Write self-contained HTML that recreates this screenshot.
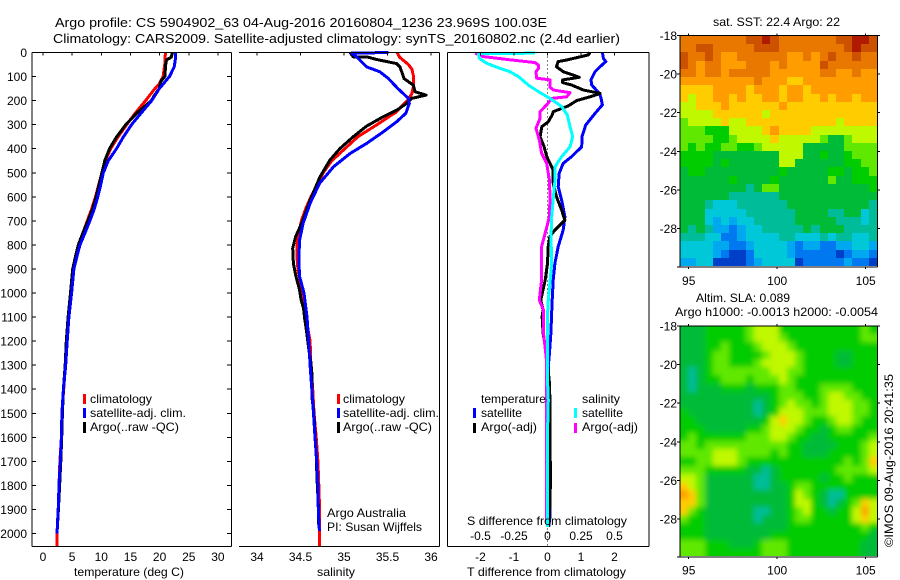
<!DOCTYPE html>
<html lang="en">
<head>
<meta charset="utf-8">
<title>Argo profile</title>
<style>
html,body{margin:0;padding:0;background:#fff;}
svg{display:block;}
text{font-family:"Liberation Sans",sans-serif;font-size:12px;fill:#000;}
.t13{font-size:13px;}
</style>
</head>
<body>
<svg id="chart" xmlns="http://www.w3.org/2000/svg" width="900" height="580" viewBox="0 0 900 580">
  <defs>
    <clipPath id="sla-clip"><rect x="680" y="326" width="197" height="230"/></clipPath>
    <filter id="sla-blur" filterUnits="userSpaceOnUse" x="650" y="296" width="250" height="284"><feGaussianBlur stdDeviation="2.6"/></filter>
  </defs>
  <rect x="0" y="0" width="900" height="580" fill="#fff"/>
  <text class="t13" x="55" y="27" textLength="492" lengthAdjust="spacingAndGlyphs">Argo profile: CS 5904902_63 04-Aug-2016 20160804_1236 23.969S 100.03E</text>
  <text class="t13" x="53" y="43" textLength="567" lengthAdjust="spacingAndGlyphs">Climatology: CARS2009. Satellite-adjusted climatology: synTS_20160802.nc (2.4d earlier)</text>

  <g id="heat1"></g>
  <g clip-path="url(#sla-clip)">
    <g id="heat2" filter="url(#sla-blur)"></g>
  </g>
  <g id="lines"></g>
  <g id="axes"></g>

  <g>
    <rect x="83" y="394" width="3" height="10" fill="#f00"/>
    <text x="90" y="403" textLength="62" lengthAdjust="spacingAndGlyphs">climatology</text>
    <rect x="83" y="408" width="3" height="10" fill="#00f"/>
    <text x="90" y="417" textLength="96" lengthAdjust="spacingAndGlyphs">satellite-adj. clim.</text>
    <rect x="83" y="422" width="3" height="11" fill="#000"/>
    <text x="90" y="431" textLength="89" lengthAdjust="spacingAndGlyphs">Argo(..raw -QC)</text>
  </g>
  <g>
    <rect x="337" y="394" width="3" height="10" fill="#f00"/>
    <text x="343" y="403" textLength="62" lengthAdjust="spacingAndGlyphs">climatology</text>
    <rect x="337" y="408" width="3" height="10" fill="#00f"/>
    <text x="343" y="417" textLength="96" lengthAdjust="spacingAndGlyphs">satellite-adj. clim.</text>
    <rect x="337" y="422" width="3" height="11" fill="#000"/>
    <text x="343" y="431" textLength="89" lengthAdjust="spacingAndGlyphs">Argo(..raw -QC)</text>
  </g>
  <g>
    <text x="481" y="403" textLength="65" lengthAdjust="spacingAndGlyphs">temperature</text>
    <rect x="473" y="408" width="3" height="10" fill="#00f"/>
    <text x="481" y="417" textLength="41" lengthAdjust="spacingAndGlyphs">satellite</text>
    <rect x="473" y="423" width="3" height="10" fill="#000"/>
    <text x="481" y="431" textLength="56" lengthAdjust="spacingAndGlyphs">Argo(-adj)</text>
    <text x="582" y="403" textLength="38" lengthAdjust="spacingAndGlyphs">salinity</text>
    <rect x="574" y="408" width="3" height="10" fill="#0ff"/>
    <text x="582" y="417" textLength="41" lengthAdjust="spacingAndGlyphs">satellite</text>
    <rect x="574" y="423" width="3" height="10" fill="#f0f"/>
    <text x="582" y="431" textLength="56" lengthAdjust="spacingAndGlyphs">Argo(-adj)</text>
  </g>

  <text x="327" y="517" textLength="79" lengthAdjust="spacingAndGlyphs">Argo Australia</text>
  <text x="327" y="531" textLength="95" lengthAdjust="spacingAndGlyphs">PI: Susan Wijffels</text>

  <text x="74" y="576" textLength="110" lengthAdjust="spacingAndGlyphs">temperature (deg C)</text>
  <text x="317" y="576" textLength="38" lengthAdjust="spacingAndGlyphs">salinity</text>
  <text x="467" y="525" textLength="160" lengthAdjust="spacingAndGlyphs">S difference from climatology</text>
  <text x="467" y="576" textLength="159" lengthAdjust="spacingAndGlyphs">T difference from climatology</text>

  <text x="713" y="26" textLength="127" lengthAdjust="spacingAndGlyphs">sat. SST: 22.4 Argo: 22</text>
  <text x="696" y="302" textLength="94" lengthAdjust="spacingAndGlyphs">Altim. SLA: 0.089</text>
  <text x="675" y="316" textLength="203" lengthAdjust="spacingAndGlyphs">Argo h1000: -0.0013 h2000: -0.0054</text>
  <text transform="translate(893,547) rotate(-90)" x="0" y="0" textLength="173" lengthAdjust="spacingAndGlyphs">©IMOS 09-Aug-2016 20:41:35</text>
</svg>
<script>
// ---------- profile data: depth (m) and value for each series ----------
const tempClimDepth = [0,50,100,130,150,200,250,300,350,400,450,500,550,600,650,700,750,800,850,900,1000,1100,1200,1300,1400,1500,1600,1700,1800,1900,2000,2052];
const tempClimValues = [21.0,20.9,20.6,19.95,19.2,17.6,15.9,14.35,12.9,11.6,10.7,10.1,9.55,9.0,8.35,7.6,6.85,6.1,5.55,5.15,4.75,4.35,4.1,3.85,3.55,3.25,3.15,2.9,2.75,2.6,2.4,2.4];
const tempSatDepth = [0,30,60,100,130,150,200,250,300,350,400,450,500,550,600,650,700,750,800,850,900,1000,1100,1200,1300,1400,1500,1600,1700,1800,1900,2000];
const tempSatValues = [22.75,22.7,22.5,21.7,20.65,19.95,18.65,16.9,15.2,13.8,12.6,11.2,10.35,9.9,9.4,8.8,8.05,7.2,6.35,5.8,5.3,4.9,4.45,4.15,3.9,3.5,3.25,3.15,2.97,2.75,2.6,2.4];
const tempArgoDepth = [0,20,30,50,100,120,150,180,200,250,300,350,400,450,500,550,600,650,700,750,800,850,900,1000,1100,1200,1300,1400,1500,1600,1700,1800,1900,1980];
const tempArgoValues = [22.2,22.0,21.2,21.05,20.9,20.2,19.95,19.05,18.6,16.2,14.2,12.65,11.4,10.6,10.1,9.6,9.1,8.5,7.7,6.85,6.05,5.55,5.1,4.72,4.3,4.0,3.8,3.5,3.32,3.2,3.05,2.85,2.65,2.45];

const salClimDepth = [0,20,50,70,100,140,170,190,210,250,300,350,400,450,500,550,600,650,700,750,800,850,900,1000,1100,1200,1300,1400,1500,1600,1700,1800,1900,2000,2052];
const salClimValues = [35.61,35.64,35.74,35.78,35.80,35.80,35.78,35.75,35.70,35.59,35.38,35.16,35.01,34.86,34.76,34.69,34.62,34.56,34.51,34.48,34.46,34.46,34.47,34.52,34.56,34.61,34.62,34.64,34.655,34.68,34.70,34.71,34.72,34.72,34.72];
const salSatDepth = [0,3,18,60,80,108,150,191,212,253,288,330,378,420,475,544,627,710,780,863,932,1000,1100,1200,1300,1400,1500,1600,1700,1800,1900,1990];
const salSatValues = [35.51,35.088,35.146,35.26,35.41,35.51,35.62,35.74,35.75,35.71,35.605,35.45,35.26,35.07,34.88,34.72,34.61,34.53,34.49,34.48,34.49,34.54,34.575,34.594,34.61,34.63,34.65,34.667,34.686,34.70,34.705,34.717];
const salArgoDepth = [0,18,18,29,46,60,108,136,163,177,191,212,240,267,306,350,399,447,517,614,711,766,814,877,932,988,1025,1064,1110,1160,1235,1290,1330,1430,1500,1585,1670,1770,1880,1970];
const salArgoValues = [35.069,35.107,35.26,35.376,35.605,35.644,35.69,35.797,35.816,35.942,35.778,35.72,35.605,35.452,35.26,35.107,34.954,34.839,34.724,34.61,34.513,34.444,34.41,34.418,34.448,34.49,34.505,34.535,34.55,34.57,34.595,34.62,34.63,34.63,34.655,34.665,34.68,34.69,34.705,34.71];

const diffTSatDepth = [0,24,38,59,80,114,135,170,191,218,253,302,350,392,433,461,502,558,613,683,738,807,877,946,1029,1098,1167,1237,1306,1445,1722,1930,1972];
const diffTSatValues = [1.64,1.67,1.74,1.57,1.42,1.30,1.32,1.55,1.60,1.64,1.42,1.14,1.03,1.02,0.72,0.47,0.35,0.32,0.42,0.52,0.47,0.32,0.22,0.17,0.14,0.12,0.10,0.065,0.025,0.035,0.065,0.075,0.035];
const diffTArgoDepth = [0,10,31,38,59,80,94,103,114,125,135,156,170,184,200,222,246,260,288,308,350,392,433,489,544,600,655,697,738,766,807,877,946,1029,1071,1098,1167,1237,1292,1361,1472,1583,1680,1778,1930,1972];
const diffTArgoValues = [1.27,1.22,0.57,0.32,0.27,0.47,0.77,0.95,0.45,0.45,0.72,1.07,1.57,1.27,0.87,0.62,0.17,0.14,0.02,-0.17,-0.22,-0.10,-0.02,0.17,0.17,0.27,0.42,0.52,0.22,0.07,0.02,0,-0.07,-0.2,-0.13,-0.16,-0.13,-0.05,-0.01,0.05,0.08,0.07,0.08,0.09,0.06,0.03];
const diffSSatDepth = [3,4,24,45,66,80,100,135,163,191,225,260,308,350,392,433,475,530,600,683,766,877,1029,1098,1167,1361,1445,1583,1972];
const diffSSatValues = [-0.093,-0.516,-0.509,-0.454,-0.354,-0.28,-0.218,-0.143,-0.068,0.019,0.106,0.148,0.168,0.188,0.168,0.106,0.056,0.056,0.044,0.031,0.026,0.031,0.006,-0.001,0,0,0.006,0,0];
const diffSArgoDepth = [3,17,31,42,52,66,80,107,114,145,156,167,184,191,218,246,274,315,364,419,461,530,600,683,738,807,877,946,1029,1071,1167,1237,1292,1389,1456,1950];
const diffSArgoValues = [-0.541,-0.479,-0.267,-0.093,-0.068,-0.068,-0.086,-0.081,0.019,0.019,0.044,0.168,0.143,0.031,-0.006,-0.056,-0.056,-0.086,-0.061,-0.044,-0.006,0.014,0.019,0.014,-0.011,-0.044,-0.044,-0.044,-0.061,-0.03,-0.03,-0.016,-0.006,-0.006,-0.006,-0.006];

// ---------- tick labels ----------
const depthTicks = [0,100,200,300,400,500,600,700,800,900,1000,1100,1200,1300,1400,1500,1600,1700,1800,1900,2000];
const tempTicks = [0,5,10,15,20,25,30];
const salTicks = [34,34.5,35,35.5,36];
const diffTTicks = [-2,-1,0,1,2];
const diffSTicks = [-0.5,-0.25,0,0.25,0.5];
const latTicks = [-18,-20,-22,-24,-26,-28];
const lonTicks = [95,100,105];

// ---------- map data (colour level per cell, north to south, west to east) ----------
const sstLevels = [
[11,11,11,11,11,11,11,11,12,12,13,12,11,11,11,11,11,11,11,12,12,13,13,12],
[11,11,12,12,11,11,11,11,11,12,12,12,11,11,11,11,11,11,11,11,12,13,12,12],
[12,11,11,12,11,10,10,11,11,11,11,11,11,10,10,11,10,11,12,11,11,12,11,11],
[12,11,10,11,11,10,10,10,11,11,11,10,11,10,10,10,10,12,11,11,11,11,11,11],
[11,11,10,11,11,10,11,11,11,11,11,10,10,10,10,10,10,11,11,10,10,11,10,10],
[10,10,10,10,10,10,10,10,10,11,10,10,10,9,9,10,10,10,10,10,10,10,10,10],
[9,9,9,9,10,10,10,10,9,10,10,10,9,10,10,9,10,10,10,10,10,10,10,10],
[9,8,9,9,10,10,9,10,9,9,10,10,9,10,10,9,9,10,9,10,10,9,10,10],
[8,8,9,9,9,10,9,9,9,9,9,9,10,9,9,9,9,9,9,9,9,9,9,9],
[8,8,8,8,9,9,9,9,9,9,8,9,9,9,9,9,9,9,9,9,9,9,9,9],
[7,8,8,8,8,9,8,8,9,9,9,9,9,9,9,9,9,9,9,8,9,9,9,9],
[7,7,7,6,6,6,8,8,8,8,9,10,9,9,9,9,8,8,8,8,8,8,8,8],
[7,7,7,7,6,6,7,8,8,8,8,9,8,8,8,8,8,7,5,5,7,8,8,8],
[7,6,7,6,6,7,7,6,6,7,8,8,8,8,8,5,5,5,5,5,7,7,7,7],
[6,6,6,6,5,5,5,5,5,5,5,5,8,8,8,5,5,6,5,5,6,7,7,7],
[6,6,6,6,5,6,5,5,5,5,5,5,8,8,5,5,5,5,5,5,6,6,7,7],
[5,6,6,5,5,5,5,5,5,5,5,5,6,5,5,5,5,5,6,6,5,6,6,7],
[5,5,5,5,5,5,6,5,5,5,5,6,5,5,5,5,5,5,7,5,5,6,6,6],
[5,5,5,5,5,5,5,5,4,5,7,7,5,5,5,5,5,5,5,5,5,5,5,6],
[5,5,5,5,5,5,4,4,4,4,4,4,5,5,5,5,5,5,5,5,5,5,5,5],
[5,5,5,4,3,3,3,4,4,4,4,4,4,5,5,5,5,5,5,5,5,5,5,4],
[5,5,5,3,3,3,3,3,4,4,4,4,4,4,5,5,5,5,4,4,5,5,3,4],
[5,5,5,3,2,3,2,3,3,4,4,4,4,4,5,5,5,5,5,4,4,4,3,4],
[5,4,5,4,2,2,1,2,3,3,4,4,4,4,4,5,4,5,5,5,4,4,4,4],
[4,4,4,3,3,1,1,2,3,3,3,3,4,4,3,3,3,4,3,4,4,3,3,4],
[3,3,3,3,2,2,1,1,2,3,3,3,3,2,1,2,2,1,1,2,2,3,3,2],
[3,3,3,3,2,1,0,0,1,3,3,3,3,2,1,1,1,1,1,0,1,2,2,1],
[2,2,3,3,0,0,0,0,1,2,3,3,3,3,0,1,1,1,1,1,2,1,1,0]
];
const slaLevels = [
[5,5,5,6,6,6,6,6,7,8,8,8,6,6,6,6,6,6,6,6,6,6,7,6],
[5,5,5,6,6,6,6,6,7,8,8,8,7,6,6,6,6,6,6,6,6,6,7,7],
[5,5,5,6,6,7,6,6,6,7,8,8,8,7,6,6,6,6,6,6,6,6,6,6],
[5,5,5,6,7,7,6,6,6,6,7,8,8,8,7,6,6,6,6,5,5,6,6,6],
[5,5,5,6,7,7,6,6,6,7,8,8,8,8,7,6,6,6,6,5,5,6,6,6],
[5,4,5,6,7,7,7,7,7,7,7,8,8,7,7,6,6,6,6,6,6,6,6,6],
[5,4,5,6,6,7,7,7,6,7,7,7,8,7,6,6,6,6,6,6,6,6,6,6],
[5,4,5,5,5,6,6,6,5,6,6,6,7,7,6,6,6,7,7,7,7,6,6,6],
[5,5,5,5,5,5,5,5,5,5,5,6,7,7,7,6,6,7,8,8,7,7,6,6],
[5,5,5,5,5,5,5,5,5,4,5,6,7,8,7,7,6,7,8,8,8,7,7,6],
[6,5,5,5,5,5,5,5,5,4,5,6,8,8,8,7,7,7,8,8,8,7,7,6],
[6,6,5,5,5,5,5,5,5,5,6,8,9,8,8,7,6,6,7,8,8,7,6,6],
[6,6,6,5,5,5,5,5,6,6,7,8,8,8,7,6,6,5,6,7,7,6,6,6],
[6,7,6,6,6,6,6,6,7,7,7,8,8,7,6,6,5,5,6,6,6,6,6,7],
[7,7,6,7,7,7,7,7,7,7,7,7,7,6,6,5,5,5,5,6,6,6,7,8],
[7,7,7,7,8,8,8,7,7,7,7,6,7,6,6,5,5,5,6,6,6,6,7,8],
[6,6,7,7,8,8,8,7,6,6,6,6,6,6,6,6,6,6,6,6,7,6,7,9],
[7,7,7,6,6,6,6,6,5,5,4,5,6,6,6,6,6,6,6,7,7,7,7,8],
[8,8,7,5,5,5,5,5,5,4,4,5,6,6,6,6,6,5,6,6,7,6,6,6],
[9,8,7,5,5,5,5,5,5,4,4,5,5,6,7,7,6,6,6,6,6,6,6,6],
[10,9,7,5,5,5,5,5,5,5,5,5,5,6,8,7,6,5,4,4,6,6,6,6],
[9,9,7,5,5,5,5,5,5,5,5,5,5,6,8,8,6,5,4,5,6,7,9,8],
[9,7,6,5,5,5,5,5,5,4,4,5,5,6,7,8,6,6,5,6,6,8,10,8],
[7,6,6,5,5,5,5,5,5,4,5,5,5,6,7,7,6,6,6,6,6,8,9,8],
[6,6,6,5,5,5,5,5,5,5,5,5,5,6,6,6,6,6,6,6,6,6,7,6],
[6,6,6,5,5,5,5,5,5,5,5,6,6,6,6,6,6,6,6,6,6,6,6,5],
[7,7,7,6,6,6,5,5,5,6,7,7,7,6,6,6,6,6,6,6,6,6,5,5],
[7,7,7,6,6,6,6,6,6,6,7,7,7,6,6,6,6,6,6,6,6,6,5,5]
];
const levelColours = ['#0040c8','#0078f0','#00a8f0','#00c8d8','#00bc98','#00bb38','#00cc00','#60e800','#c0f800','#ffcc00','#ff9c00','#e87800','#cc5200','#b01a00'];

// ---------- axis functions ----------
const NS = 'http://www.w3.org/2000/svg';
function depthY(d){ return 52.5 + 0.2405 * d; }
function tempX(t){ return 43 + 5.83 * t; }
function salX(s){ return 257 + 87 * (s - 34); }
function diffTX(t){ return 547.5 + 33.5 * t; }
function diffSX(s){ return 547.5 + 134 * s; }
function lonX(lon){ return 688.7 + 17.7 * (lon - 95); }
function lat1Y(lat){ return 35.5 + 19.3 * (-18 - lat); }
function lat2Y(lat){ return 326 + 19.3 * (-18 - lat); }

function make(tag, attrs, parent){
  const el = document.createElementNS(NS, tag);
  for (const k in attrs) el.setAttribute(k, attrs[k]);
  parent.appendChild(el);
  return el;
}
const linesG = document.getElementById('lines');
const axesG = document.getElementById('axes');

function drawProfile(name, depths, values, xFn, colour, width){
  const pts = depths.map(function(d, i){ return xFn(values[i]).toFixed(1) + ',' + depthY(d).toFixed(1); }).join(' ');
  const el = make('polyline', {points: pts, fill: 'none', stroke: colour, 'stroke-width': width, 'shape-rendering': 'crispEdges', 'stroke-linejoin': 'round'}, linesG);
  
  
}
function drawLine(name, x1, y1, x2, y2, parent){
  const el = make('line', {x1: x1, y1: y1, x2: x2, y2: y2, stroke: '#000', 'stroke-width': 1, 'shape-rendering': 'crispEdges'}, parent || axesG);
  
  
  return el;
}
function drawLabel(name, txt, x, y, anchor){
  const el = make('text', {x: x, y: y, 'text-anchor': anchor || 'middle'}, axesG);
  el.textContent = txt;
  
  
}
function drawHeat(groupId, levels, yTop, yBottom, bleed){
  const g = document.getElementById(groupId);
  const x0 = 680, x1 = 877;
  const cols = levels[0].length, rows = levels.length;
  levels.forEach(function(row, r){
    row.forEach(function(v, c){
      let xa = Math.round(x0 + (x1 - x0) * c / cols), xb = Math.round(x0 + (x1 - x0) * (c + 1) / cols);
      let ya = Math.round(yTop + (yBottom - yTop) * r / rows), yb = Math.round(yTop + (yBottom - yTop) * (r + 1) / rows);
      if (c === 0) xa -= bleed;
      if (c === cols - 1) xb += bleed;
      if (r === 0) ya -= bleed;
      if (r === rows - 1) yb += bleed;
      const el = make('rect', {x: xa, y: ya, width: xb - xa, height: yb - ya, fill: levelColours[v], 'shape-rendering': 'crispEdges'}, g);
      
      
    });
  });
}

// ---------- maps ----------
drawHeat('heat1', sstLevels, 36, 266, 0);
drawHeat('heat2', slaLevels, 326, 556, 14);

// ---------- dotted zero line (panel 3) ----------
const zeroLine = make('line', {x1: diffTX(0), y1: 52.5, x2: diffTX(0), y2: 546, stroke: '#000', 'stroke-width': 1, 'stroke-dasharray': '1 3', 'shape-rendering': 'crispEdges'}, linesG);



// ---------- profile lines ----------
drawProfile('temperature-climatology-line', tempClimDepth, tempClimValues, tempX, '#f00', 3);
drawProfile('temperature-argo-line', tempArgoDepth, tempArgoValues, tempX, '#000', 3);
drawProfile('temperature-satellite-line', tempSatDepth, tempSatValues, tempX, '#00f', 3);
drawProfile('salinity-climatology-line', salClimDepth, salClimValues, salX, '#f00', 3);
drawProfile('salinity-argo-line', salArgoDepth, salArgoValues, salX, '#000', 3);
drawProfile('salinity-satellite-line', salSatDepth, salSatValues, salX, '#00f', 3);
drawProfile('t-difference-satellite-line', diffTSatDepth, diffTSatValues, diffTX, '#00f', 3);
drawProfile('t-difference-argo-line', diffTArgoDepth, diffTArgoValues, diffTX, '#000', 3);
drawProfile('s-difference-argo-line', diffSArgoDepth, diffSArgoValues, diffSX, '#f0f', 3);
drawProfile('s-difference-satellite-line', diffSSatDepth, diffSSatValues, diffSX, '#0ff', 3);

// ---------- panel frames ----------
const T = 52.5, B = 546.5;
drawLine('panel1-top', 32, T, 231.5, T);
drawLine('panel1-bottom', 32, B, 231.5, B);
drawLine('panel1-left', 32, T, 32, B);
drawLine('panel1-right', 231.5, T, 231.5, B);
drawLine('panel2-top', 239, T, 439.5, T);
drawLine('panel2-bottom', 239, B, 439.5, B);
drawLine('panel2-right', 439.5, T, 439.5, B);
drawLine('panel3-top', 447.5, T, 649, T);
drawLine('panel3-bottom', 447.5, B, 649, B);
drawLine('panel3-left', 447.5, T, 447.5, B);
drawLine('panel3-right', 649, T, 649, B);

depthTicks.forEach(function(d){
  const y = depthY(d);
  drawLine('depth-tick-left', 32, y, 36, y);
  drawLine('depth-tick-right', 227, y, 231.5, y);
  drawLabel('depth-tick-label', String(d), 27, y + 4.5, 'end');
});
tempTicks.forEach(function(t){
  drawLine('temperature-tick', tempX(t), T, tempX(t), T + 3);
  drawLabel('temperature-tick-label', String(t), tempX(t), 561);
});
salTicks.forEach(function(s){
  drawLine('salinity-tick', salX(s), T, salX(s), T + 3);
  drawLabel('salinity-tick-label', String(s), salX(s), 561);
});
diffTTicks.forEach(function(t){
  drawLine('t-difference-tick', diffTX(t), T, diffTX(t), T + 3);
  drawLabel('t-difference-tick-label', String(t), diffTX(t), 561);
});
diffSTicks.forEach(function(s){
  drawLabel('s-difference-tick-label', String(s), diffSX(s), 540);
});

// ---------- map frames and ticks ----------
[[35.5, 267, lat1Y, 285], [326, 557, lat2Y, 574.5]].forEach(function(m){
  const yT = m[0], yB = m[1], latY = m[2], labelY = m[3];
  drawLine('map-top', 680, yT, 877.5, yT);
  drawLine('map-bottom', 680, yB, 877.5, yB);
  drawLine('map-left', 680, yT, 680, yB);
  drawLine('map-right', 877.5, yT, 877.5, yB);
  latTicks.forEach(function(lat){
    drawLine('map-lat-tick-left', 677, latY(lat), 680, latY(lat));
    drawLine('map-lat-tick-right', 877.5, latY(lat), 880, latY(lat));
    drawLabel('map-lat-tick-label', String(lat), 677, latY(lat) + 4.5, 'end');
  });
  lonTicks.forEach(function(lon){
    drawLine('map-lon-tick-top', lonX(lon), yT - 2, lonX(lon), yT);
    drawLine('map-lon-tick-bottom', lonX(lon), yB, lonX(lon), yB + 2);
    drawLabel('map-lon-tick-label', String(lon), lonX(lon), labelY);
  });
  drawLine('map-corner-tick', 677, yB, 680, yB);
});
</script>
</body>
</html>
